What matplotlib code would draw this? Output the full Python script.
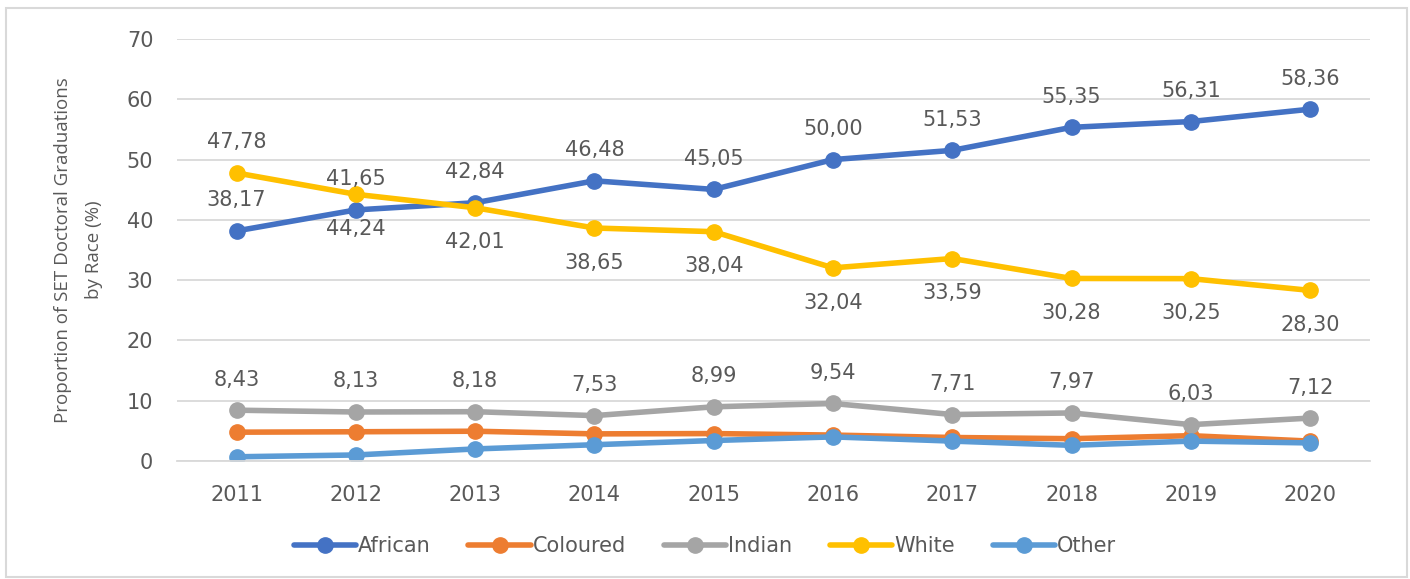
import matplotlib.pyplot as plt
from matplotlib.patches import Rectangle

years = ['2011', '2012', '2013', '2014', '2015', '2016', '2017', '2018', '2019', '2020']
african = [38.17, 41.65, 42.84, 46.48, 45.05, 50.00, 51.53, 55.35, 56.31, 58.36]
coloured = [4.78, 4.85, 4.94, 4.50, 4.55, 4.30, 3.90, 3.70, 4.20, 3.30]
indian = [8.43, 8.13, 8.18, 7.53, 8.99, 9.54, 7.71, 7.97, 6.03, 7.12]
white = [47.78, 44.24, 42.01, 38.65, 38.04, 32.04, 33.59, 30.28, 30.25, 28.30]
other = [0.70, 1.00, 2.00, 2.70, 3.40, 4.00, 3.30, 2.60, 3.30, 3.00]

# white labels sit below the line except the first one
white_pos = ['above'] + ['below'] * 9

txt = '#595959'
plt.rcParams['font.family'] = ['DejaVu Sans']

fig = plt.figure(figsize=(14.1, 5.79), dpi=100)
ax = fig.add_axes([0.1255, 0.2038, 0.846, 0.7288])

x = list(range(len(years)))
series = [('African', african, '#4472C4'),
          ('Coloured', coloured, '#ED7D31'),
          ('Indian', indian, '#A5A5A5'),
          ('White', white, '#FFC000'),
          ('Other', other, '#5B9BD5')]
for name, vals, col in series:
    ax.plot(x, vals, color=col, lw=4, marker='o', ms=11, label=name,
            solid_capstyle='round')

def label(vals, where):
    for i, v in enumerate(vals):
        pos = where[i] if isinstance(where, list) else where
        dy = 22 if pos == 'above' else -25
        ax.annotate(f'{v:.2f}'.replace('.', ','), (i, v), xytext=(0, dy),
                    textcoords='offset points', ha='center', va='center',
                    fontsize=15, color=txt)

label(african, 'above')
label(white, white_pos)
label(indian, 'above')

ax.set_xlim(-0.5, len(years) - 0.5)
ax.set_ylim(0, 70)
ax.set_yticks(range(0, 71, 10))
ax.set_xticks(x)
ax.set_xticklabels(years)
ax.grid(axis='y', color='#d9d9d9', lw=1.3)
ax.set_axisbelow(True)
for s in ax.spines.values():
    s.set_visible(False)
ax.spines['bottom'].set_visible(True)
ax.spines['bottom'].set_color('#d9d9d9')
ax.spines['bottom'].set_linewidth(1.3)
ax.tick_params(length=0, labelsize=15, colors=txt)
ax.tick_params(axis='y', pad=17)
ax.tick_params(axis='x', pad=17)

ax.set_ylabel('Proportion of SET Doctoral Graduations\nby Race (%)',
              fontsize=13.5, color=txt, linespacing=1.9, family='Open Sans')
ax.yaxis.set_label_coords(-0.062, 0.5)

fig.legend(loc='center', bbox_to_anchor=(0.5, 0.057), ncol=5, frameon=False,
           fontsize=15, handlelength=3.0, handletextpad=0.1, columnspacing=1.8,
           labelcolor=txt)

fig.patches.append(Rectangle((0.004, 0.003), 0.994, 0.983, transform=fig.transFigure,
                             fill=False, edgecolor='#d9d9d9', lw=1.5))

fig.savefig('out.png', dpi=100)
